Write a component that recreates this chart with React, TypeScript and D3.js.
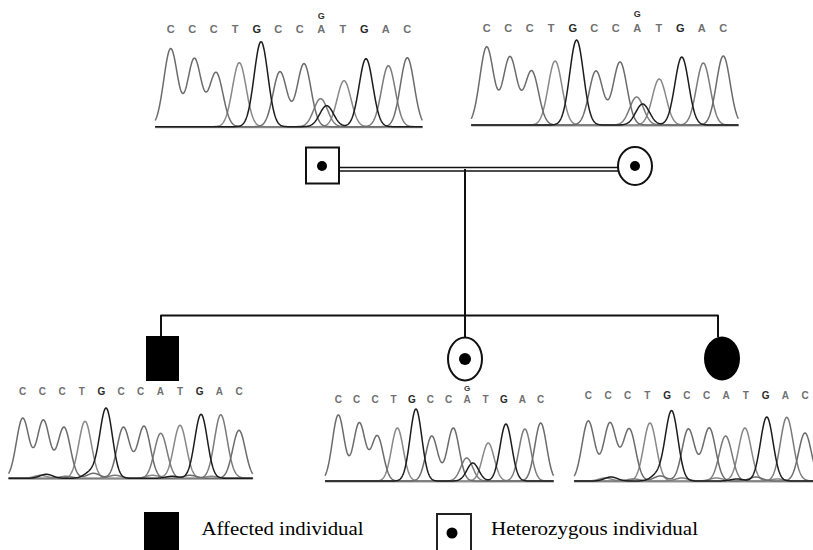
import * as d3 from 'd3';
import { useEffect, useRef } from 'react';

// sequence read under every trace, with the A/G site at index 7
const SEQUENCE = ['C', 'C', 'C', 'T', 'G', 'C', 'C', 'A', 'T', 'G', 'A', 'C'];
const HET_SITE = 7;
const HET_ALLELE = 'G';

// peak positions (base units) and amplitudes (signal units) per individual
const fatherPeakPos = [0, 1.1, 2.11, 3.19, 4.2, 5.08, 6.2, 6.97, 8.06, 9.08, 10.12, 11];
const fatherPeakAmp = [78, 68, 54, 64, 85, 55, 63, 28, 46, 68, 61, 69];
const fatherExtra = [['G', 7.25, 21]];

const motherPeakPos = [0, 1.08, 2.09, 3.18, 4.18, 5.08, 6.2, 6.97, 8.02, 9.07, 10.07, 11];
const motherPeakAmp = [78, 68, 54, 64, 85, 54, 63, 28, 46, 68, 62, 69];
const motherExtra = [['G', 7.25, 21]];

const sonPeakPos = [0, 1.05, 2.1, 3.17, 4.24, 5.12, 6.17, 7.02, 8.0, 9.07, 10.07, 11];
const sonPeakAmp = [60, 58, 51, 57, 70, 51, 52, 45, 53, 64, 63, 48];
const sonExtra = [
  ['G', 1.2, 4], ['T', 0.9, 3], ['A', 2.2, 2], ['C', 3.6, 5], ['G', 3.45, 6],
  ['A', 4.7, 3], ['T', 6.6, 3], ['G', 7.6, 2], ['C', 8.5, 3], ['T', 9.6, 2], ['A', 10.6, 2],
];

const hetDaughterPeakPos = [0, 1.14, 2.12, 3.21, 4.22, 5.08, 6.25, 6.98, 8.15, 9.11, 10.14, 11];
const hetDaughterPeakAmp = [66, 58, 45, 53, 72, 45, 53, 23, 38, 57, 52, 58];
const hetDaughterExtra = [['G', 7.31, 18]];

const affDaughterPeakPos = [0, 1.1, 2.08, 3.13, 4.23, 5.08, 6.14, 6.97, 7.95, 9.06, 10.07, 11];
const affDaughterPeakAmp = [60, 58, 52, 58, 70, 52, 53, 45, 53, 64, 63, 48];
const affDaughterExtra = [
  ['G', 1.15, 4], ['T', 0.85, 3], ['A', 2.3, 2], ['C', 3.65, 5], ['G', 3.5, 6],
  ['A', 4.75, 3], ['T', 6.5, 3], ['G', 7.55, 2], ['C', 8.5, 4], ['T', 9.6, 2], ['A', 10.55, 2],
];

const BASE_COLORS = { C: '#6b6b6b', T: '#888888', A: '#7a7a7a', G: '#1c1c1c' };
const SIGMA = 0.32;

const panels = [
  { pos: fatherPeakPos, amp: fatherPeakAmp, extra: fatherExtra, x0: 170.7, x1: 407.3, base: 126.7, letterY: 29, hetY: 16, het: true, fs: 11 },
  { pos: motherPeakPos, amp: motherPeakAmp, extra: motherExtra, x0: 486.7, x1: 723.3, base: 125, letterY: 28, hetY: 14, het: true, fs: 11 },
  { pos: sonPeakPos, amp: sonPeakAmp, extra: sonExtra, x0: 22.7, x1: 239, base: 478.3, letterY: 391, hetY: 0, het: false, fs: 10 },
  { pos: hetDaughterPeakPos, amp: hetDaughterPeakAmp, extra: hetDaughterExtra, x0: 338.3, x1: 540.7, base: 481, letterY: 399, hetY: 388.5, het: true, fs: 10 },
  { pos: affDaughterPeakPos, amp: affDaughterPeakAmp, extra: affDaughterExtra, x0: 588.3, x1: 805, base: 481, letterY: 395, hetY: 0, het: false, fs: 10 },
];

function drawTrace(svg, p) {
  const x = d3.scaleLinear().domain([0, 11]).range([p.x0, p.x1]);
  const y = d3.scaleLinear().domain([0, 100]).range([p.base, p.base - 100]);
  const g = svg.append('g');

  g.append('line')
    .attr('x1', x(-0.72)).attr('x2', x(11.72))
    .attr('y1', p.base + 0.5).attr('y2', p.base + 0.5)
    .attr('stroke', '#9a9a9a').attr('stroke-width', 2);

  const samples = d3.range(-0.72, 11.72, 0.02);
  ['T', 'A', 'C', 'G'].forEach((b) => {
    const peaks = [];
    SEQUENCE.forEach((s, i) => { if (s === b) peaks.push([p.pos[i], p.amp[i]]); });
    p.extra.forEach((e) => { if (e[0] === b) peaks.push([e[1], e[2]]); });
    const pts = samples.map((t) => [t, d3.sum(peaks, (pk) => pk[1] * Math.exp(-((t - pk[0]) ** 2) / (2 * SIGMA * SIGMA)))]);
    g.append('path')
      .attr('d', d3.line().x((d) => x(d[0])).y((d) => y(d[1]))(pts))
      .attr('fill', 'none')
      .attr('stroke', BASE_COLORS[b])
      .attr('stroke-width', 1.5)
      .attr('stroke-linejoin', 'round');
  });

  g.selectAll('text.base')
    .data(SEQUENCE)
    .enter()
    .append('text')
    .attr('x', (d, i) => x(i))
    .attr('y', p.letterY)
    .attr('text-anchor', 'middle')
    .attr('dominant-baseline', 'central')
    .style('font-family', '"Liberation Sans", Arial, sans-serif')
    .style('font-size', `${p.fs}px`)
    .style('font-weight', 'bold')
    .style('fill', (d) => (d === 'G' ? '#2a2a2a' : '#707070'))
    .text((d) => d);

  if (p.het) {
    g.append('text')
      .attr('x', x(HET_SITE))
      .attr('y', p.hetY)
      .attr('text-anchor', 'middle')
      .attr('dominant-baseline', 'central')
      .style('font-family', '"Liberation Sans", Arial, sans-serif')
      .style('font-size', `${p.fs - 2}px`)
      .style('font-weight', 'bold')
      .style('fill', '#333')
      .text(HET_ALLELE);
  }
}

export default function App() {
  const ref = useRef(null);

  useEffect(() => {
    const svg = d3.select(ref.current);
    svg.selectAll('*').remove();
    svg.append('rect').attr('width', 813).attr('height', 550).attr('fill', '#fff');

    panels.forEach((p) => drawTrace(svg, p));

    const ped = svg.append('g').attr('stroke', '#111').attr('fill', 'none');

    // parents
    ped.append('rect').attr('x', 306).attr('y', 147.5).attr('width', 33).attr('height', 36).attr('stroke-width', 2).attr('fill', '#fff');
    ped.append('circle').attr('cx', 322).attr('cy', 166).attr('r', 5).attr('fill', '#000').attr('stroke', 'none');
    ped.append('ellipse').attr('cx', 635).attr('cy', 166).attr('rx', 17).attr('ry', 19).attr('stroke-width', 2).attr('fill', '#fff');
    ped.append('circle').attr('cx', 635).attr('cy', 166).attr('r', 5).attr('fill', '#000').attr('stroke', 'none');

    // consanguineous marriage line
    [167.5, 171].forEach((yy) => {
      ped.append('line').attr('x1', 340).attr('x2', 618).attr('y1', yy).attr('y2', yy).attr('stroke-width', 1.4);
    });

    // descent and sibship
    ped.append('line').attr('x1', 465).attr('x2', 465).attr('y1', 169).attr('y2', 337).attr('stroke-width', 2);
    ped.append('line').attr('x1', 160.5).attr('x2', 718.5).attr('y1', 315.5).attr('y2', 315.5).attr('stroke-width', 2);
    ped.append('line').attr('x1', 161).attr('x2', 161).attr('y1', 315).attr('y2', 337).attr('stroke-width', 2);
    ped.append('line').attr('x1', 718).attr('x2', 718).attr('y1', 315).attr('y2', 337).attr('stroke-width', 2);

    // children
    ped.append('rect').attr('x', 146).attr('y', 336).attr('width', 33).attr('height', 45).attr('fill', '#000').attr('stroke', 'none');
    ped.append('ellipse').attr('cx', 465).attr('cy', 359).attr('rx', 17).attr('ry', 21.5).attr('stroke-width', 2).attr('fill', '#fff');
    ped.append('circle').attr('cx', 465).attr('cy', 359).attr('r', 6).attr('fill', '#000').attr('stroke', 'none');
    ped.append('ellipse').attr('cx', 722).attr('cy', 358.5).attr('rx', 18).attr('ry', 22).attr('fill', '#000').attr('stroke', 'none');

    // legend
    const leg = svg.append('g');
    leg.append('rect').attr('x', 144).attr('y', 512).attr('width', 35).attr('height', 38).attr('fill', '#000');
    leg.append('rect').attr('x', 437).attr('y', 514).attr('width', 34).attr('height', 37).attr('fill', '#fff').attr('stroke', '#222').attr('stroke-width', 2);
    leg.append('circle').attr('cx', 452).attr('cy', 533).attr('r', 5.5).attr('fill', '#000');
    leg.append('text').attr('x', 201.5).attr('y', 535)
      .attr('textLength', 162).attr('lengthAdjust', 'spacingAndGlyphs')
      .style('font-family', '"Liberation Serif", "Times New Roman", serif').style('font-size', '19px').style('fill', '#000')
      .text('Affected individual');
    leg.append('text').attr('x', 491).attr('y', 535)
      .attr('textLength', 207).attr('lengthAdjust', 'spacingAndGlyphs')
      .style('font-family', '"Liberation Serif", "Times New Roman", serif').style('font-size', '19px').style('fill', '#000')
      .text('Heterozygous individual');
  }, []);

  return (
    <svg
      ref={ref}
      width={813}
      height={550}
      style={{ position: 'absolute', left: 0, top: 0, display: 'block' }}
    />
  );
}
